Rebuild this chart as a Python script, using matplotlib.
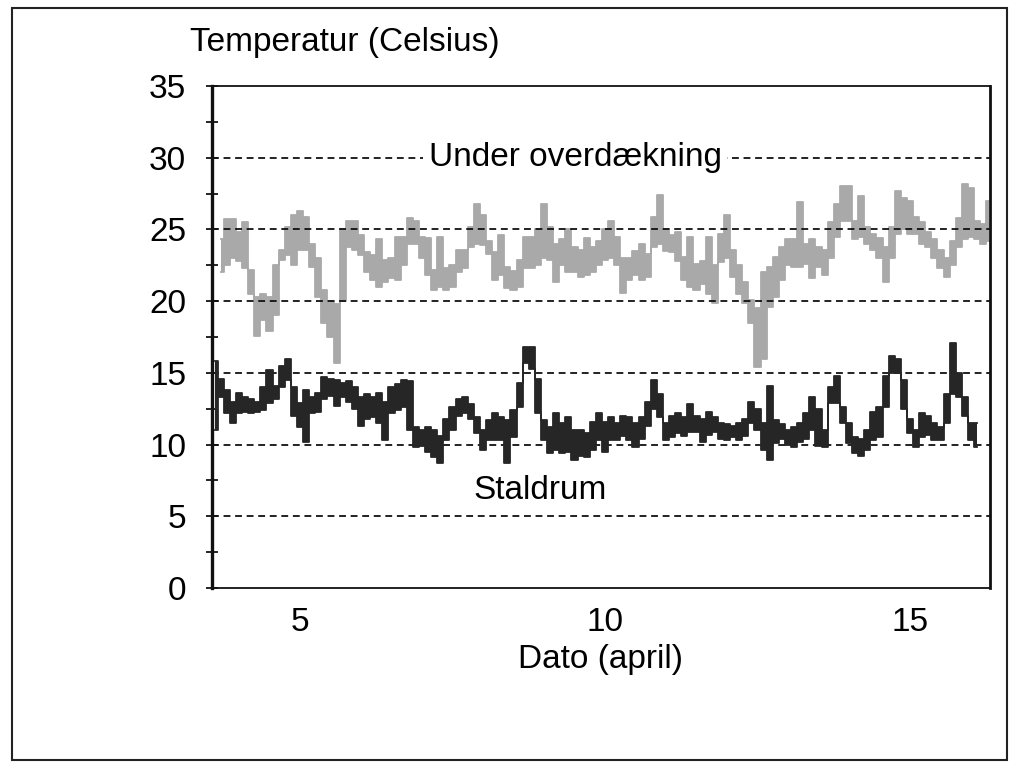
import numpy as np
import matplotlib.pyplot as plt
from matplotlib.patches import Rectangle

plt.rcParams["font.family"] = ["Liberation Sans", "DejaVu Sans"]

# sample spacing of the logger readings, days
STEP = 0.1

# "Under overdækning" (grey), min / max of each 0.1 day slot, from day 3.7
grey_start = 3.7
grey_lo = [
    22.0, 22.5, 23.0,
    22.8, 22.3, 20.5, 17.6, 18.7, 17.9, 19.0, 22.9, 23.2, 22.5,
    23.6, 23.6, 22.4, 20.3, 18.5, 17.5, 15.7, 20.0, 23.8, 23.6,
    23.2, 22.0, 21.5, 21.0, 21.3, 21.6, 21.5, 22.5, 24.0, 24.0,
    23.0, 21.8, 20.8, 21.0, 20.8, 21.0, 22.0, 22.3, 23.8, 24.0,
    23.9, 23.3, 21.5, 21.8, 20.9, 20.8, 21.0, 22.3, 22.3, 22.5,
    23.0, 22.9, 21.3, 22.5, 22.0, 22.0, 21.7, 21.8, 22.0, 22.5,
    22.9, 23.0, 22.5, 20.6, 21.5, 21.8, 21.5, 21.7, 23.8, 24.0,
    23.5, 23.4, 22.8, 21.5, 21.0, 20.8, 21.2, 20.5, 19.9, 22.7,
    23.0, 21.7, 20.5, 19.9, 18.5, 15.4, 16.0, 19.6, 20.3, 21.5,
    22.5, 22.4, 22.4, 22.6, 21.6, 22.4, 21.8, 23.0, 24.5, 25.6,
    25.6, 24.3, 24.5, 24.0, 23.6, 23.0, 21.3, 23.0, 24.7, 25.0,
    24.7, 24.7, 24.0, 23.8, 23.0, 22.3, 21.7, 22.5, 23.8, 24.3,
    24.5, 24.3, 24.0, 24.2,
]
grey_hi = [
    24.3, 25.7, 25.7,
    24.8, 25.5, 22.2, 20.3, 20.5, 20.3, 22.5, 23.6, 25.2, 26.0,
    26.3, 25.9, 24.0, 23.0, 20.8, 20.0, 19.8, 25.0, 25.6, 25.6,
    24.6, 23.4, 23.2, 24.3, 22.9, 23.0, 24.5, 24.5, 25.8, 25.6,
    24.5, 24.4, 22.2, 24.5, 22.3, 22.5, 23.6, 23.6, 25.2, 26.8,
    26.0, 24.2, 23.4, 24.6, 22.4, 22.1, 22.9, 24.5, 24.5, 25.0,
    26.8, 25.2, 24.0, 24.3, 25.0, 23.8, 23.6, 24.4, 23.8, 24.2,
    25.0, 25.6, 24.5, 23.0, 23.0, 23.5, 24.0, 23.3, 25.9, 27.4,
    25.0, 24.6, 24.8, 23.1, 24.5, 22.6, 22.8, 24.5, 22.5, 24.7,
    26.0, 23.6, 22.5, 21.3, 20.1, 19.5, 22.0, 22.4, 23.1, 23.8,
    24.3, 24.3, 26.9, 24.0, 24.3, 23.8, 23.6, 25.5, 26.8, 28.0,
    28.0, 25.6, 27.3, 25.2, 24.7, 24.4, 23.8, 25.2, 27.7, 27.2,
    27.0, 25.9, 25.5, 24.8, 24.3, 23.6, 23.0, 24.2, 25.8, 28.2,
    27.9, 25.6, 25.4, 27.0,
]

# "Staldrum" (black), min / max of each 0.1 day slot, from day 3.6
black_start = 3.6
black_lo = [
    11.0, 13.3, 12.2, 11.5,
    12.2, 12.3, 12.2, 12.3, 12.4, 12.9, 13.2, 14.0, 14.5, 12.0,
    11.2, 10.2, 12.2, 12.3, 13.2, 13.4, 12.7, 13.3, 13.0, 12.5,
    11.3, 11.8, 11.9, 11.5, 10.3, 12.2, 12.4, 12.6, 11.0, 9.8,
    9.9, 9.5, 9.1, 8.7, 10.3, 11.0, 12.0, 12.2, 11.8, 10.8,
    9.6, 10.3, 10.3, 10.3, 8.7, 10.5, 12.6, 15.7, 15.3, 12.2,
    10.3, 9.4, 9.6, 9.4, 9.5, 8.9, 9.2, 9.1, 9.6, 10.3,
    9.5, 10.3, 10.3, 10.6, 10.3, 9.8, 10.4, 11.3, 12.5, 11.9,
    10.3, 10.5, 10.8, 10.6, 10.9, 10.9, 10.2, 10.7, 10.9, 10.4,
    10.3, 10.5, 10.3, 10.6, 11.5, 11.0, 9.6, 8.9, 10.1, 10.4,
    10.0, 9.8, 10.2, 10.4, 11.0, 9.9, 9.8, 12.9, 12.9, 11.5,
    10.1, 9.4, 9.2, 9.6, 10.3, 10.5, 12.6, 15.0, 15.0, 12.5,
    10.8, 9.8, 10.5, 10.7, 10.3, 10.3, 11.5, 13.5, 13.3, 12.0,
    10.3, 9.8,
]
black_hi = [
    15.8, 14.6, 13.8, 13.0,
    13.6, 13.3, 13.2, 13.0, 14.0, 15.2, 14.1, 15.5, 16.0, 14.0,
    12.9, 13.8, 13.3, 13.6, 14.7, 14.6, 14.5, 14.3, 14.4, 14.0,
    13.3, 13.5, 13.3, 13.6, 13.0, 14.0, 14.2, 14.5, 14.4, 11.2,
    11.0, 11.2, 11.0, 10.6, 11.8, 12.6, 13.2, 13.3, 12.8, 11.9,
    11.0, 11.7, 12.2, 11.9, 11.7, 12.4, 14.3, 16.8, 16.8, 14.6,
    11.7, 11.2, 12.2, 11.5, 11.9, 11.0, 11.0, 10.8, 11.6, 12.2,
    11.6, 11.9, 11.5, 12.0, 11.9, 11.5, 11.9, 13.0, 14.5, 13.5,
    11.5, 12.0, 12.2, 11.9, 12.8, 12.0, 11.8, 12.3, 11.9, 11.5,
    11.4, 11.3, 11.5, 11.8, 13.0, 12.5, 11.5, 14.1, 11.7, 11.4,
    11.0, 11.2, 11.5, 12.2, 13.3, 12.5, 11.0, 14.0, 14.8, 12.6,
    11.5, 10.5, 10.4, 11.0, 12.3, 12.6, 14.8, 16.2, 16.0, 14.5,
    11.8, 11.0, 12.2, 12.0, 11.5, 11.2, 13.5, 17.1, 15.0, 13.3,
    11.5, 11.5,
]

grid_levels = [5, 10, 15, 20, 25, 30]
y_major = [0, 5, 10, 15, 20, 25, 30, 35]
x_major = [5, 10, 15]

GREY = "#a9a9a9"
BLACK = "#262626"
FS = 24


def draw_band(ax, start, lo, hi, color, z):
    days = start + STEP * np.arange(len(lo))
    ax.fill_between(days, lo, hi, color=color, lw=0, step="mid", zorder=z)
    ax.plot(days, lo, color=color, lw=1.3, drawstyle="steps-mid", zorder=z)
    ax.plot(days, hi, color=color, lw=1.3, drawstyle="steps-mid", zorder=z)


def main():
    fig = plt.figure(figsize=(10.16, 7.66), dpi=100)
    fig.patches.append(
        Rectangle((12 / 1016, 6 / 766), 995 / 1016, 752 / 766,
                  transform=fig.transFigure, fill=False, ec="#222222", lw=1.5)
    )
    ax = fig.add_axes([212 / 1016, 178 / 766, 778 / 1016, 502 / 766])

    draw_band(ax, grey_start, grey_lo, grey_hi, GREY, 1)
    for lev in grid_levels:
        ax.axhline(lev, color="#111111", lw=1.3, ls=(0, (3.8, 2.6)), zorder=2)
    draw_band(ax, black_start, black_lo, black_hi, BLACK, 3)

    ax.set_xlim(3.557, 16.311)
    ax.set_ylim(0, 35)

    ax.set_yticks(y_major)
    ax.set_yticks(np.arange(2.5, 35, 5), minor=True)
    ax.tick_params(axis="y", which="both", direction="inout", length=9,
                   width=1.2, labelsize=FS, pad=14)
    ax.set_xticks(x_major)
    ax.tick_params(axis="x", length=0, labelsize=FS, pad=14)

    for side, lw in (("left", 2.4), ("right", 2.0), ("top", 1.3), ("bottom", 1.3)):
        ax.spines[side].set_linewidth(lw)
        ax.spines[side].set_color("#111111")

    ax.text(9.51, 30, "Under overdækning", fontsize=FS, ha="center",
            va="center", zorder=4,
            bbox=dict(facecolor="white", edgecolor="none", pad=4))
    ax.text(8.93, 6.8, "Staldrum", fontsize=FS, ha="center", va="center",
            zorder=4)

    fig.text(190 / 1016, 1 - 42 / 766, "Temperatur (Celsius)", fontsize=FS,
             ha="left", va="center")
    ax.set_xlabel("Dato (april)", fontsize=FS, labelpad=4)

    fig.savefig("out.png", dpi=100)
    plt.close(fig)


if __name__ == "__main__":
    main()
